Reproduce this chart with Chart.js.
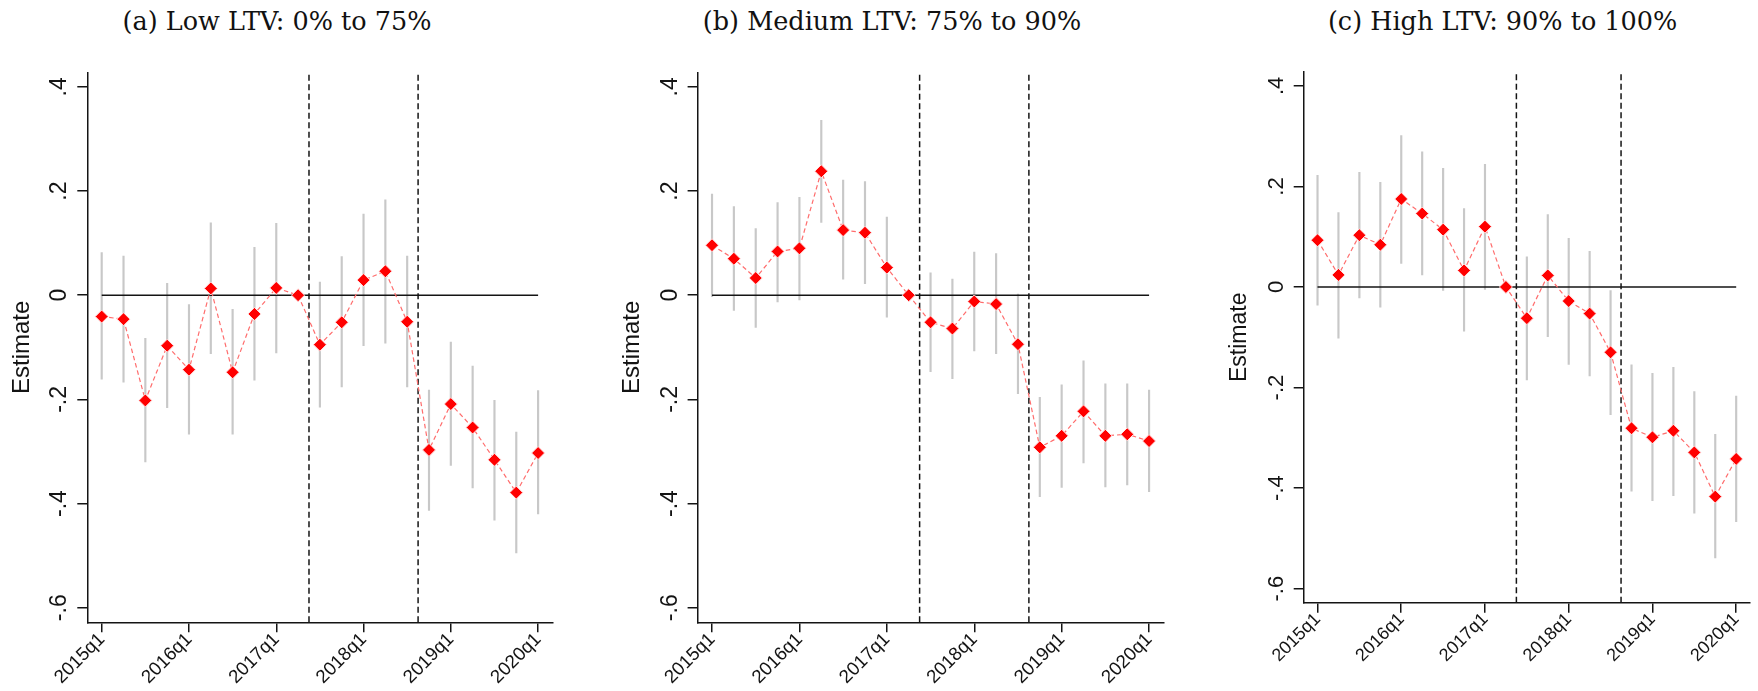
<!DOCTYPE html>
<html>
<head>
<meta charset="utf-8">
<script src="https://cdn.jsdelivr.net/npm/chart.js@4.4.1/dist/chart.umd.min.js"></script>
<style>
  body { margin: 0; background: #fff; width: 1758px; height: 691px; position: relative; overflow: hidden; }
  canvas { position: absolute; top: 0; }
  .ttl { position: absolute; top: 6px; width: 600px; text-align: center; white-space: nowrap;
         font-family: "DejaVu Serif", "Liberation Serif", serif; font-size: 25.5px; line-height: 30px; color: #111; }
</style>
</head>
<body>
<div class="ttl" id="ttl0"></div>
<div class="ttl" id="ttl1"></div>
<div class="ttl" id="ttl2"></div>
<canvas id="c0"></canvas>
<canvas id="c1"></canvas>
<canvas id="c2"></canvas>
<script>
// quarters on the x axis, 2015q1 .. 2020q1
const quarters = [
  "2015q1", "2015q2", "2015q3", "2015q4",
  "2016q1", "2016q2", "2016q3", "2016q4",
  "2017q1", "2017q2", "2017q3", "2017q4",
  "2018q1", "2018q2", "2018q3", "2018q4",
  "2019q1", "2019q2", "2019q3", "2019q4",
  "2020q1"
];
const xTickIdx = [0, 4, 8, 12, 16, 20];
const yTickVals = [-0.6, -0.4, -0.2, 0, 0.2, 0.4];
const yMin = -0.628, yMax = 0.428;
// policy dates, between quarters
const eventLines = [9.5, 14.5];

const titles = [
  "(a) Low LTV: 0% to 75%",
  "(b) Medium LTV: 75% to 90%",
  "(c) High LTV: 90% to 100%"
];

// low LTV
const lowEst = [-0.041, -0.046, -0.202, -0.097, -0.143, 0.013, -0.148, -0.036, 0.014, 0,
  -0.095, -0.052, 0.029, 0.046, -0.051, -0.297, -0.209, -0.254, -0.316, -0.379, -0.303];
const lowHi = [0.082, 0.075, -0.083, 0.023, -0.018, 0.139, -0.027, 0.092, 0.138, null,
  0.025, 0.074, 0.156, 0.183, 0.075, -0.182, -0.090, -0.136, -0.202, -0.263, -0.183];
const lowLo = [-0.161, -0.167, -0.320, -0.216, -0.267, -0.112, -0.267, -0.163, -0.111, null,
  -0.215, -0.176, -0.097, -0.092, -0.176, -0.413, -0.327, -0.370, -0.432, -0.495, -0.420];

// medium LTV
const medEst = [0.096, 0.070, 0.033, 0.084, 0.090, 0.238, 0.125, 0.120, 0.053, 0,
  -0.052, -0.064, -0.012, -0.017, -0.094, -0.292, -0.270, -0.223, -0.270, -0.267, -0.280];
const medHi = [0.194, 0.170, 0.128, 0.178, 0.188, 0.336, 0.221, 0.218, 0.150, null,
  0.043, 0.031, 0.083, 0.080, 0.002, -0.196, -0.172, -0.126, -0.170, -0.170, -0.182];
const medLo = [-0.003, -0.029, -0.062, -0.013, -0.009, 0.140, 0.031, 0.022, -0.042, null,
  -0.147, -0.160, -0.107, -0.112, -0.189, -0.387, -0.369, -0.322, -0.368, -0.364, -0.377];

// high LTV
const highEst = [0.093, 0.024, 0.103, 0.084, 0.175, 0.146, 0.114, 0.033, 0.120, 0,
  -0.062, 0.023, -0.028, -0.053, -0.130, -0.281, -0.299, -0.286, -0.329, -0.417, -0.342];
const highHi = [0.222, 0.148, 0.228, 0.208, 0.301, 0.269, 0.236, 0.156, 0.244, null,
  0.060, 0.144, 0.097, 0.071, -0.007, -0.155, -0.172, -0.160, -0.208, -0.293, -0.217];
const highLo = [-0.036, -0.102, -0.022, -0.040, 0.047, 0.024, -0.007, -0.088, -0.005, null,
  -0.185, -0.099, -0.154, -0.177, -0.254, -0.406, -0.425, -0.415, -0.450, -0.539, -0.467];

// panel placement on the page
const panels = [
  { est: lowEst, lo: lowLo, hi: lowHi, x0: 0, left: 87.3, right: 553, top: 72.3, bottom: 622.3, padR: 7, titleX: 277, fs: 1 },
  { est: medEst, lo: medLo, hi: medHi, x0: 610, left: 697.6, right: 1163.5, top: 72.3, bottom: 622.3, padR: 7, titleX: 892, fs: 1 },
  { est: highEst, lo: highLo, hi: highHi, x0: 1218, left: 1303.7, right: 1750, top: 71.8, bottom: 602.7, padR: 8, titleX: 1502.6, fs: 0.96 }
];

const ink = "#141414";

function fmtY(v) {
  if (v === 0) return "0";
  const s = String(Math.abs(Math.round(v * 10) / 10)).replace(/^0/, "");
  return (v < 0 ? "-" : "") + s;
}

function drawPanel(p, k) {
  const t = document.getElementById("ttl" + k);
  t.textContent = titles[k];
  t.style.left = (p.titleX - 300) + "px";

  const cv = document.getElementById("c" + k);
  const w = Math.round(p.right + p.padR - p.x0);
  cv.width = w; cv.height = 691;
  cv.style.left = p.x0 + "px";
  cv.style.width = w + "px"; cv.style.height = "691px";

  // 95% intervals as floating bars (none for the reference quarter)
  const ciData = [];
  p.est.forEach((v, i) => {
    if (p.lo[i] !== null) ciData.push({ x: i, y: [p.lo[i], p.hi[i]] });
  });

  const datasets = [
    { data: p.est.map((v, i) => ({ x: i, y: v })),
      borderColor: "#ff6d6d", borderWidth: 1.2, borderDash: [4.5, 3],
      pointStyle: "rectRot", pointRadius: 6.5, pointBackgroundColor: "#ff0000",
      pointBorderColor: "#ffe4e4", pointBorderWidth: 1, order: 1 },
    ...eventLines.map(v => ({
      data: [{ x: v, y: yMin }, { x: v, y: yMax }],
      borderColor: ink, borderWidth: 1.5, borderDash: [6, 3.5], pointRadius: 0, order: 2 })),
    { data: [{ x: 0, y: 0 }, { x: 20, y: 0 }],
      borderColor: ink, borderWidth: 1.6, pointRadius: 0, order: 3 },
    { type: "bar", data: ciData, backgroundColor: "#c8c8c8", barThickness: 1.5, grouped: false, order: 4 }
  ];

  const fs = p.fs;
  new Chart(cv, {
    type: "line",
    data: { datasets },
    options: {
      responsive: false,
      animation: false,
      events: [],
      layout: { padding: { top: p.top, right: p.padR, bottom: 0, left: 0 } },
      plugins: { legend: { display: false }, tooltip: { enabled: false } },
      scales: {
        x: {
          type: "linear", min: -0.66, max: 20.66, offset: false,
          afterBuildTicks: s => { s.ticks = xTickIdx.map(v => ({ value: v })); },
          afterFit: s => { s.height = 691 - p.bottom; },
          ticks: {
            autoSkip: false, minRotation: 45, maxRotation: 45, padding: -3.8, labelOffset: 0.2,
            callback: v => quarters[v],
            font: { family: "Liberation Sans", size: 18.7 * fs }, color: ink
          },
          grid: { offset: false, drawOnChartArea: false, drawTicks: true, tickLength: 10, color: ink, lineWidth: 1.5 },
          border: { display: true, color: ink, width: 1.5 }
        },
        y: {
          type: "linear", min: yMin, max: yMax,
          afterBuildTicks: s => { s.ticks = yTickVals.map(v => ({ value: v })); },
          afterFit: s => { s.width = p.left - p.x0; },
          ticks: {
            minRotation: 90, maxRotation: 90, crossAlign: "center", padding: 4,
            callback: v => fmtY(v),
            font: { family: "Liberation Sans", size: 23 * fs }, color: ink
          },
          title: {
            display: true, text: "Estimate", color: ink,
            font: { family: "Liberation Sans", size: 24 * fs },
            padding: { top: 8, bottom: 0 }
          },
          grid: { drawOnChartArea: false, drawTicks: true, tickLength: 10, color: ink, lineWidth: 1.5 },
          border: { display: true, color: ink, width: 1.5 }
        }
      }
    }
  });
}

panels.forEach(drawPanel);
</script>
</body>
</html>
